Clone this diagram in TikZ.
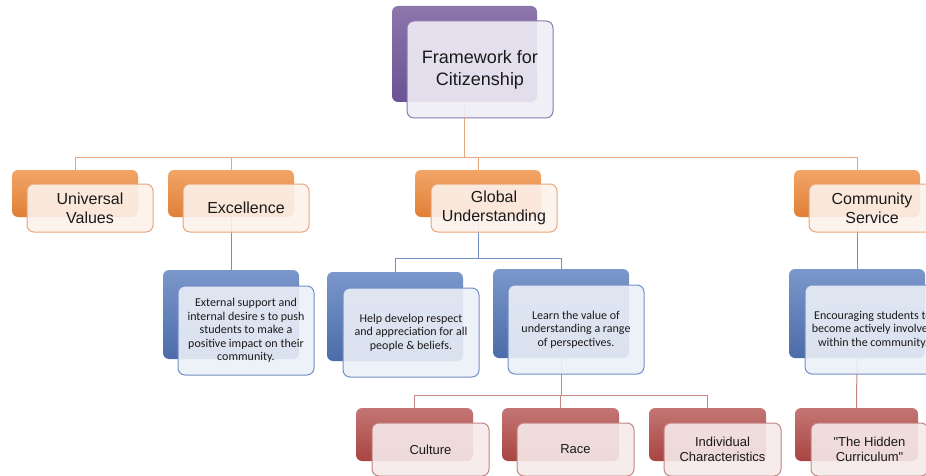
\documentclass[tikz,border=0pt]{standalone}
\usepackage{fontspec}
\setmainfont{Liberation Sans}
\newfontfamily\qfont[Ligatures=TeXOff]{Liberation Sans}
\newfontfamily\bodyfont{Carlito}
\usetikzlibrary{backgrounds}
\definecolor{pTop}{HTML}{8C76AB}
\definecolor{pBot}{HTML}{6B5294}
\definecolor{pLine}{HTML}{8A7AAE}
\definecolor{pFill}{HTML}{F0EDF5}
\definecolor{oTop}{HTML}{F2A566}
\definecolor{oBot}{HTML}{E07F36}
\definecolor{oLine}{HTML}{E9A57B}
\definecolor{oFill}{HTML}{FDF2EB}
\definecolor{bTop}{HTML}{7B97CB}
\definecolor{bBot}{HTML}{4C6CA9}
\definecolor{bLine}{HTML}{7390C6}
\definecolor{bFill}{HTML}{EBEFF7}
\definecolor{rTop}{HTML}{C37674}
\definecolor{rBot}{HTML}{A94441}
\definecolor{rLine}{HTML}{C58584}
\definecolor{rFill}{HTML}{F6EAEA}
\definecolor{txt}{HTML}{1A1A1A}
\begin{document}
\begin{tikzpicture}[x=1pt,y=-1pt,
  backbox/.style={rounded corners=6pt, inner sep=0pt, outer sep=0pt, anchor=north west},
  frontbox/.style={draw, line width=1pt, rounded corners=7pt, fill opacity=0.9, text opacity=1,
    anchor=north west, align=center, inner sep=0pt, outer sep=0pt, text=txt},
  backP/.style={backbox, top color=pTop, bottom color=pBot, minimum width=145pt, minimum height=96pt},
  frontP/.style={frontbox, draw=pLine, fill=pFill, minimum width=146pt, minimum height=97pt,
    font=\fontsize{18}{22}\selectfont},
  backO/.style={backbox, top color=oTop, bottom color=oBot, minimum width=126pt, minimum height=47pt},
  frontO/.style={frontbox, draw=oLine, fill=oFill, minimum width=126pt, minimum height=48pt,
    font=\fontsize{16}{19}\selectfont},
  backB/.style={backbox, top color=bTop, bottom color=bBot, minimum width=136pt, minimum height=89pt},
  frontB/.style={frontbox, draw=bLine, fill=bFill, minimum width=136pt, minimum height=89pt,
    font=\bodyfont\fontsize{12}{13.5}\selectfont},
  backR/.style={backbox, top color=rTop, bottom color=rBot, minimum width=117pt, minimum height=53pt},
  frontR/.style={frontbox, draw=rLine, fill=rFill, minimum width=117pt, minimum height=53pt,
    font=\fontsize{13}{15}\selectfont},
  connO/.style={draw=oLine, line width=1pt},
  connB/.style={draw=bLine, line width=1pt},
  connR/.style={draw=rLine, line width=1pt}
]
\useasboundingbox (0,0) rectangle (926,476);
\clip (0,0) rectangle (926,476);

% root
\node[backP] (rootB) at (392,6) {};
\node[frontP] (root) at (407,21) {Framework for\\Citizenship};

% level 1
\node[backO] (uvB) at (12,170) {};
\node[frontO] (uv) at (27,184) {Universal\\Values};
\node[backO] (excB) at (168,170) {};
\node[frontO] (exc) at (183,184) {Excellence};
\node[backO] (glB) at (415,170) {};
\node[frontO] (gl) at (431,184) {Global\\Understanding};
\node[backO] (comB) at (794,170) {};
\node[frontO] (com) at (809,184) {Community\\Service};

% level 2
\node[backB] (exccB) at (163,270) {};
\node[frontB] (excc) at (178,286) {External support and\\internal desire s to push\\students to make a\\positive impact on their\\community.};
\node[backB] (helpB) at (327,272) {};
\node[frontB] (help) at (343,288) {Help develop respect\\and appreciation for all\\people \& beliefs.};
\node[backB] (learnB) at (493,269) {};
\node[frontB] (learn) at (508,285) {Learn the value of\\understanding a range\\of perspectives.};
\node[backB] (comcB) at (789,269) {};
\node[frontB] (comc) at (805,285) {Encouraging students to\\become actively involved\\within the community.};

% level 3
\node[backR] (culB) at (356,408) {};
\node[frontR] (cul) at (372,423) {Culture};
\node[backR] (raceB) at (502,408) {};
\node[frontR] (race) at (517,423) {Race};
\node[backR] (indB) at (649,408) {};
\node[frontR] (ind) at (664,423) {Individual\\Characteristics};
\node[backR, minimum width=123pt] (hidB) at (795,408) {};
\node[frontR, minimum width=117pt] (hid) at (811,423) {{\qfont"}The Hidden\\Curriculum{\qfont"}};

\begin{scope}[on background layer]
  \path (rootB.south) ++(0,55) coordinate (bus1);
  \draw[connO] (rootB.south) -- (bus1);
  \draw[connO] (uvB.north) |- (bus1);
  \draw[connO] (excB.north) |- (bus1);
  \draw[connO] (glB.north) |- (bus1);
  \draw[connO] (comB.north) |- (bus1);
  \draw[connB] (excB.south) -- (exccB.north);
  \path (glB.south) ++(0,41) coordinate (bus2);
  \draw[connB] (glB.south) -- (bus2);
  \draw[connB] (helpB.north) |- (bus2);
  \draw[connB] (learnB.north) |- (bus2);
  \draw[connB] (comB.south) -- (comcB.north);
  \path (learnB.south) ++(0,37) coordinate (bus3);
  \draw[connR] (learnB.south) -- (bus3);
  \draw[connR] (culB.north) |- (bus3);
  \draw[connR] (raceB.north) |- (bus3);
  \draw[connR] (indB.north) |- (bus3);
  \draw[connR] (comcB.south) -- (hidB.north);
\end{scope}
\end{tikzpicture}
\end{document}
